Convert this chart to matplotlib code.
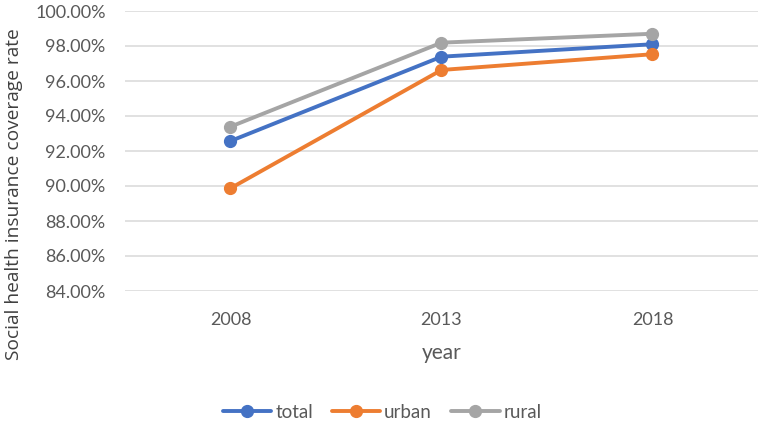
import matplotlib
matplotlib.use("Agg")
import matplotlib.pyplot as plt
from matplotlib.ticker import FuncFormatter

years = ["2008", "2013", "2018"]
total = [92.57, 97.39, 98.10]
urban = [89.87, 96.63, 97.53]
rural = [93.39, 98.19, 98.70]

blue = "#4472C4"
orange = "#ED7D31"
grey = "#A5A5A5"
txt = "#595959"

fig = plt.figure(figsize=(7.65, 4.29), dpi=100)
ax = fig.add_axes([125 / 765, 1 - 291 / 429, 633 / 765, 280 / 429])

x = list(range(len(years)))
for vals, col, name in [(total, blue, "total"), (urban, orange, "urban"), (rural, grey, "rural")]:
    ax.plot(x, vals, color=col, lw=2.8, marker="o", ms=8.5, label=name, solid_capstyle="round")

ax.set_xlim(-0.5, 2.5)
ax.set_ylim(84, 100)
ax.set_yticks([84, 86, 88, 90, 92, 94, 96, 98, 100])
ax.yaxis.set_major_formatter(FuncFormatter(lambda v, p: "%.2f%%" % v))
ax.set_xticks(x)
ax.set_xticklabels(years)
ax.grid(axis="y", color="#D9D9D9", lw=1.1)
ax.set_axisbelow(True)
for s in ax.spines.values():
    s.set_visible(False)
ax.tick_params(length=0, labelsize=13, labelcolor=txt)
ax.tick_params(axis="y", pad=14)
ax.tick_params(axis="x", pad=15)
for lab in ax.get_xticklabels() + ax.get_yticklabels():
    lab.set_family("Lato")

fig.text(441.5 / 765, 1 - 353 / 429, "year", ha="center", va="center",
         fontsize=15, color=txt, family="Lato")
fig.text(14 / 765, 1 - 194 / 429, "Social health insurance coverage rate",
         rotation=90, ha="center", va="center", fontsize=13.8, color="#404040",
         family="Open Sans")

fig.legend(loc="center", bbox_to_anchor=(382 / 765, 1 - 412 / 429), ncol=3,
           frameon=False, handlelength=2.6, handletextpad=0.2, columnspacing=1.0,
           prop={"family": "Lato", "size": 13.5}, labelcolor=txt)

fig.savefig("out.png", dpi=100)
